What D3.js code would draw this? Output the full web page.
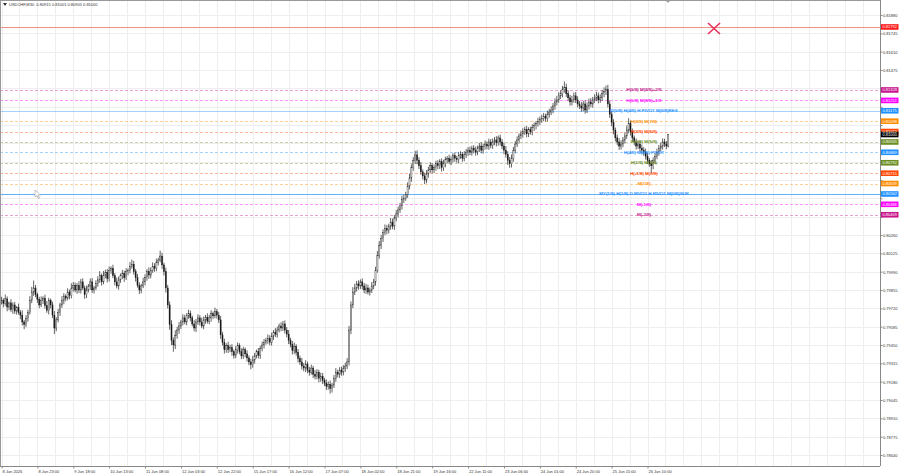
<!DOCTYPE html>
<html><head><meta charset="utf-8">
<script src="https://cdn.jsdelivr.net/npm/d3@7"></script>
<style>body{margin:0;background:#fff}svg{display:block}text{font-family:"Liberation Sans",Arial,sans-serif}</style>
</head><body><svg id="c" width="900" height="474"></svg>
<script>
const symbolTitle = "USDCHF,M30  0.80915 0.81001 0.80905 0.81000";
const firstOpen = 79770;
// closes in points (price * 1e5), one per H1 bar
const closes = [
79780,79755,79790,79730,79760,79710,79745,79700,79725,79690,
79670,79620,79600,79645,79690,79780,79840,79870,79820,79785,
79745,79780,79795,79740,79705,79780,79745,79670,79575,79635,
79690,79745,79780,79810,79795,79840,79815,79870,79890,79855,
79890,79855,79915,79870,79820,79855,79885,79915,79855,79870,
79905,79930,79960,79915,79965,79985,79940,80000,80015,79960,
79915,79885,79930,79960,79975,79945,79990,80000,80030,80045,
79990,79945,79890,79855,79885,79915,79945,79990,79965,80000,
80030,80015,80060,80075,80105,80040,79990,79870,79745,79600,
79485,79450,79520,79560,79590,79620,79650,79620,79665,79680,
79650,79605,79575,79620,79650,79620,79590,79635,79655,79625,
79650,79680,79665,79695,79670,79635,79525,79470,79415,79445,
79415,79430,79400,79375,79415,79445,79400,79370,79415,79385,
79355,79325,79305,79340,79370,79400,79375,79425,79450,79470,
79485,79500,79470,79515,79545,79530,79560,79590,79575,79605,
79560,79530,79485,79455,79410,79440,79395,79350,79325,79295,
79280,79310,79265,79250,79280,79235,79220,79250,79205,79220,
79190,79170,79145,79160,79130,79155,79205,79250,79235,79265,
79250,79280,79295,79325,79560,79745,79840,79870,79900,79885,
79915,79885,79855,79870,79840,79855,79885,79915,80000,80110,
80185,80235,80280,80310,80295,80325,80355,80325,80385,80415,
80445,80475,80520,80530,80560,80620,80680,80755,80810,80850,
80810,80770,80725,80695,80665,80710,80740,80770,80740,80755,
80785,80770,80800,80755,80785,80815,80825,80800,80815,80845,
80825,80815,80845,80855,80825,80850,80870,80885,80870,80900,
80885,80870,80900,80915,80885,80910,80930,80915,80945,80920,
80945,80960,80940,80975,80945,80915,80885,80855,80810,80785,
80825,80885,80930,80960,80990,81005,81020,81035,81005,81035,
81020,81050,81065,81080,81095,81110,81120,81135,81120,81150,
81165,81180,81210,81240,81255,81285,81300,81330,81345,81300,
81270,81240,81255,81285,81255,81225,81210,81195,81225,81180,
81210,81240,81225,81255,81270,81285,81255,81270,81300,81315,
81330,81225,81150,81090,81033,80975,80945,80915,80930,80960,
80990,81033,81080,81020,80975,80945,80915,80930,80900,80885,
80870,80840,80810,80785,80770,80810,80840,80870,80900,80915,
80945,80930,80915,81000];
// upper wick length above the body (points)
const wickUp = [
25,14,32,18,10,28,20,22,12,30, 18,35,15,24,20,30,38,55,22,16, 20,28,14,26,34,18,12,24,30,20,
26,16,30,22,14,28,18,34,24,20, 16,30,22,26,18,32,14,24,28,16, 22,26,34,16,30,20,24,28,14,26,
20,32,24,16,28,22,26,14,30,34, 24,20,28,22,16,30,26,18,32,22, 28,22,26,18,40,24,16,30,22,26,
32,20,38,24,28,16,26,22,18,30, 24,16,28,22,26,20,32,24,16,28, 22,26,16,30,20,24,28,22,26,18,
30,22,26,16,28,24,18,26,22,16, 26,18,24,30,22,16,28,20,26,24, 18,28,22,26,16,30,24,18,28,22,
26,22,30,18,24,28,16,26,22,30, 22,28,18,24,26,16,30,22,18,26, 24,18,26,22,28,16,24,30,18,22,
26,22,24,28,30,26,36,30,22,26, 18,26,22,30,24,18,28,22,26,32, 30,26,22,28,24,18,30,26,22,28,
24,22,30,26,18,28,32,26,24,30, 34,22,26,18,24,28,22,26,18,24, 22,26,18,24,28,22,16,26,24,18,
24,18,26,22,16,28,24,22,26,18, 22,26,18,24,28,22,26,18,24,22, 26,22,28,18,24,22,26,30,22,24,
28,24,22,26,18,24,26,22,28,18, 22,26,24,18,28,22,26,24,18,26, 24,28,22,26,30,26,24,28,45,30,
26,22,30,24,28,26,22,30,24,28, 26,24,28,22,26,30,24,26,28,32, 30,36,26,24,22,18,24,28,26,22,
26,32,40,22,24,18,26,22,24,26, 22,26,24,18,28,22,24,26,22,24, 26,24,22,1];
// lower wick length below the body (points)
const wickDn = [
22,28,16,32,24,18,30,22,26,16, 30,26,34,18,24,16,22,28,18,26, 24,16,28,22,18,30,26,22,45,24,
18,26,22,30,24,16,28,22,26,18, 28,22,26,16,30,24,18,28,22,26, 16,26,22,28,18,24,30,22,26,18,
26,18,28,22,24,30,16,26,22,18, 22,28,18,30,24,16,26,22,28,24, 18,26,22,24,16,30,28,34,26,38,
36,50,30,24,28,22,26,18,24,22, 26,18,24,30,22,26,16,24,28,18, 22,28,24,18,26,22,30,24,28,22,
24,18,30,26,22,28,18,24,22,26, 28,24,34,22,26,18,24,28,22,26, 18,26,22,24,28,22,26,18,24,22,
26,24,28,22,30,26,24,28,22,26, 24,30,22,26,18,28,24,22,30,26, 28,22,26,24,38,30,22,26,24,28,
26,24,28,22,26,30,24,22,26,28, 22,26,24,28,18,26,22,24,28,18, 24,28,26,22,30,24,26,22,28,24,
26,22,28,24,18,26,24,28,22,26, 28,24,22,26,30,24,28,22,26,24, 22,26,24,28,22,26,24,18,26,22,
26,22,28,24,26,22,24,28,22,26, 24,26,22,28,24,26,22,24,28,22, 26,24,28,22,26,24,30,26,34,30,
28,26,24,22,26,24,28,22,26,24, 22,26,24,28,22,26,24,22,26,24, 26,22,24,28,26,22,24,26,22,24,
24,28,26,22,24,26,22,28,24,26, 22,26,24,28,22,24,26,22,24,26, 24,26,28,30,32,26,24,28,26,24,
26,22,24,28,26,24,26,22,28,24, 26,24,28,22,55,26,24,22,26,24, 26,22,24,10];

const timeLabels = ["8 Jun 2026","8 Jun 23:00","9 Jun 18:00","10 Jun 13:00","11 Jun 08:00","12 Jun 03:00","12 Jun 22:00","15 Jun 17:00","16 Jun 12:00","17 Jun 07:00","18 Jun 02:00","18 Jun 21:00","19 Jun 16:00","22 Jun 11:00","23 Jun 06:00","24 Jun 01:00","24 Jun 20:00","25 Jun 15:00","26 Jun 10:00"];
const timeLabelBars = [0,19,38,57,76,95,114,133,152,171,190,209,228,247,266,285,304,323,342];
const priceTicks = [0.78640,0.78775,0.78910,0.79045,0.79180,0.79315,0.79450,0.79585,0.79720,0.79855,0.79990,0.80125,0.80260,0.80395,0.80530,0.80665,0.80800,0.80935,0.81070,0.81205,0.81340,0.81475,0.81610,0.81745,0.81880];

const levelValues = [0.81328,0.81251,0.81175,0.81098,0.81022,0.80945,0.80869,0.80792,0.80715,0.80639,0.80562,0.80486,0.80409];
const levelNames = ["H(5/8) M(8/8)+2/8","H(5/8) M(8/8)+1/8","D(5/8) H(4/8) H PIVOT M(8/8)RES","H(3/8) M(7/8)","H(3/8) M(6/8)","H(2/8) M(5/8)","H(4/8) M(4/8) PIVOT","H(1/8) M(3/8)","H(-1/8) M(2/8)","M(1/8)","MY(1/8) H(1/8) D PIVOT H PIVOT M(0/8)SUP","M(-1/8)","M(-2/8)"];
const levelColors = ["#c8168c","#ff00ff","#1e90ff","#ff8c00","#ff4500","#6b8e23","#1e90ff","#6b8e23","#ff4500","#ff8c00","#1e90ff","#ff00ff","#c8168c"];
const levelSolid = [false,false,true,false,false,false,false,false,false,false,true,false,false];
const redLevel = 0.81792;
const lastPrice = 0.81000;

const svg = d3.select("#c");
const plotR = 880, plotB = 466;
const x = d3.scaleLinear().domain([0, 342]).range([1.5, 647.5]);
const y = d3.scaleLinear().domain([0.78640, 0.81880]).range([455, 15]);
const fmt = d3.format(".5f");

// grid
const g = svg.append("g");
const vgrid = d3.range(0, 470, 9.5).filter(i => x(i) < plotR);
g.selectAll("line.v").data(vgrid).join("line")
  .attr("x1", d => Math.round(x(d)) + 0.5).attr("x2", d => Math.round(x(d)) + 0.5)
  .attr("y1", 0).attr("y2", plotB).attr("stroke", "#eeeeee").attr("stroke-width", 1);
g.selectAll("line.h").data(priceTicks).join("line")
  .attr("x1", 0).attr("x2", plotR).attr("y1", d => Math.round(y(d)) + 0.5).attr("y2", d => Math.round(y(d)) + 0.5)
  .attr("stroke", "#eeeeee").attr("stroke-width", 1);

// level lines
const lv = levelValues.map((v, i) => ({v, name: levelNames[i], color: levelColors[i], solid: levelSolid[i], i}));
svg.append("g").selectAll("line").data(lv).join("line")
  .attr("x1", 0).attr("x2", plotR)
  .attr("y1", d => Math.round(y(d.v)) + 0.5).attr("y2", d => Math.round(y(d.v)) + 0.5)
  .attr("stroke", d => d.color)
  .attr("stroke-opacity", d => d.i === 10 ? 0.7 : 0.4)
  .attr("stroke-width", 1)
  .attr("stroke-dasharray", d => d.solid ? null : "3,2");

// red line
svg.append("line").attr("x1", 0).attr("x2", plotR)
  .attr("y1", Math.round(y(redLevel)) + 0.5).attr("y2", Math.round(y(redLevel)) + 0.5)
  .attr("stroke", "#f09088").attr("stroke-width", 1);

// candles
const bars = closes.map((c, i) => {
  const o = i ? closes[i - 1] : firstOpen;
  return {i, o: o / 1e5, c: c / 1e5, h: (Math.max(o, c) + wickUp[i]) / 1e5, l: (Math.min(o, c) - wickDn[i]) / 1e5};
});
const cg = svg.append("g");
cg.selectAll("line").data(bars).join("line")
  .attr("x1", d => x(d.i)).attr("x2", d => x(d.i))
  .attr("y1", d => y(d.h)).attr("y2", d => y(d.l))
  .attr("stroke", "#222").attr("stroke-width", 0.7);
cg.selectAll("rect").data(bars).join("rect")
  .attr("x", d => x(d.i) - 0.55).attr("width", 1.1)
  .attr("y", d => y(Math.max(d.o, d.c)))
  .attr("height", d => Math.max(0.5, Math.abs(y(d.o) - y(d.c))))
  .attr("fill", d => d.c >= d.o ? "#fff" : "#111")
  .attr("stroke", "#222").attr("stroke-width", 0.4);

// level labels on chart
svg.append("g").selectAll("text").data(lv).join("text")
  .attr("x", 644).attr("y", d => y(d.v) + 1.5)
  .attr("text-anchor", "middle").attr("font-size", 4.4)
  .attr("fill", d => d.color).attr("stroke", d => d.color).attr("stroke-width", 0.15)
  .text(d => d.name);

// red X marker
const xg = svg.append("g").attr("stroke", "#e8305a").attr("stroke-width", 1.6);
xg.append("line").attr("x1", 708).attr("y1", 23).attr("x2", 720).attr("y2", 34);
xg.append("line").attr("x1", 720).attr("y1", 23).attr("x2", 708).attr("y2", 34);

// chart shift marker
svg.append("path").attr("d", "M665,0 L671,0 L668,3 Z").attr("fill", "#aaa");

// mouse cursor
svg.append("path").attr("d", "M35,190 L35,197 L37,195.5 L38.5,198.5 L39.5,198 L38,195 L40.5,195 Z")
  .attr("fill", "#fff").attr("stroke", "#888").attr("stroke-width", 0.5);

// frame
svg.append("line").attr("x1", 0).attr("x2", plotR).attr("y1", 0.5).attr("y2", 0.5).attr("stroke", "#999");
svg.append("line").attr("x1", 0.5).attr("x2", 0.5).attr("y1", 0).attr("y2", plotB).attr("stroke", "#999");

// price boxes data
const boxes = lv.map(d => ({v: d.v, color: d.color}));
boxes.push({v: redLevel, color: "#ff1a1a"});
boxes.push({v: lastPrice, color: "#000"});
const hidden = t => boxes.some(b => Math.abs(y(b.v) - y(t)) < 5);

// right axis
const ay = svg.append("g").attr("transform", `translate(${plotR + 0.5},0)`)
  .call(d3.axisRight(y).tickValues(priceTicks).tickSize(2).tickFormat(t => hidden(t) ? "" : fmt(t)));
ay.select(".domain").attr("stroke", "#888").attr("d", `M0,0V${plotB}`);
ay.selectAll(".tick line").attr("stroke", "#888");
ay.selectAll("text").attr("font-size", 4).attr("fill", "#333").attr("x", 2.5).attr("dy", "0.35em");

// bottom axis
const ax = svg.append("g").attr("transform", `translate(0,${plotB + 0.5})`)
  .call(d3.axisBottom(x).tickValues(timeLabelBars).tickSize(2).tickFormat((d, i) => timeLabels[i]));
ax.select(".domain").attr("stroke", "#888").attr("d", `M0,0H${plotR}`);
ax.selectAll(".tick line").attr("stroke", "#888");
ax.selectAll("text").attr("font-size", 4).attr("fill", "#333").attr("text-anchor", "start").attr("x", 0.5).attr("y", 3).attr("dy", "0.75em");

// price boxes
const bg = svg.append("g");
bg.selectAll("rect").data(boxes).join("rect")
  .attr("x", plotR + 1).attr("y", d => y(d.v) - 2.8).attr("width", 17.5).attr("height", 5.6)
  .attr("fill", d => d.color);
bg.selectAll("text").data(boxes).join("text")
  .attr("x", plotR + 2.5).attr("y", d => y(d.v) + 1.45).attr("font-size", 4).attr("fill", "#fff")
  .text(d => fmt(d.v));

// title
svg.append("path").attr("d", "M3,3 L7,3 L5,6 Z").attr("fill", "#333");
svg.append("text").attr("x", 9).attr("y", 6).attr("font-size", 4).attr("fill", "#333")
  .attr("xml:space", "preserve").text(symbolTitle);
</script></body></html>
